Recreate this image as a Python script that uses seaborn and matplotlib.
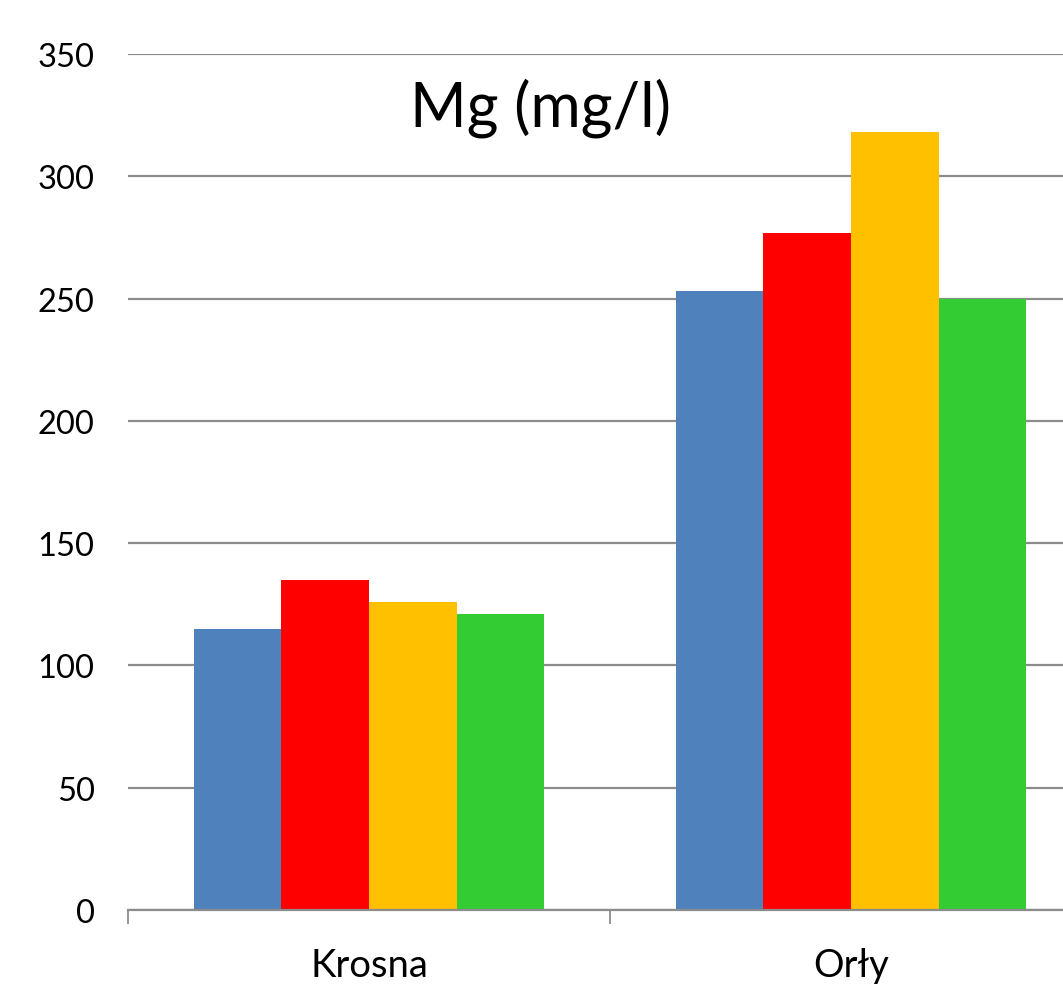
import matplotlib
matplotlib.use("Agg")
import matplotlib.pyplot as plt
import seaborn as sns
import pandas as pd
from matplotlib.ticker import FixedLocator

categories = ["Krosna", "Orły"]
series = ["I", "II", "III", "IV"]
values_krosna = [115, 135, 126, 121]
values_orly = [253, 277, 318, 250]
colors = ["#4F81BD", "#FF0000", "#FFC000", "#33CC33"]
yticks = [0, 50, 100, 150, 200, 250, 300, 350]
title = "Mg (mg/l)"

rows = []
for s, vk, vo in zip(series, values_krosna, values_orly):
    rows.append({"miejsce": categories[0], "seria": s, "Mg": vk})
    rows.append({"miejsce": categories[1], "seria": s, "Mg": vo})
df = pd.DataFrame(rows)

sns.set_theme(style="white")
plt.rcParams["font.family"] = ["Lato", "DejaVu Sans"]
plt.rcParams["text.color"] = "black"
plt.rcParams["xtick.labelcolor"] = "black"
plt.rcParams["ytick.labelcolor"] = "black"

W, H = 1063, 987
fig = plt.figure(figsize=(W / 100, H / 100), dpi=100)
left, right, bottom, top = 128, 1092, 911, 55
ax = fig.add_axes([left / W, (H - bottom) / H, (right - left) / W, (bottom - top) / H])

sns.barplot(data=df, x="miejsce", y="Mg", hue="seria", order=categories,
            hue_order=series, palette=colors, width=0.728, linewidth=0,
            saturation=1, ax=ax, legend=False)

ax.set_xlim(-0.5, 1.5)
ax.set_ylim(0, 350)
ax.set_yticks(yticks)
ax.set_yticklabels([str(t) for t in yticks], fontsize=23.5, color="black")
ax.yaxis.grid(True, color="#8c8c8c", linewidth=1.6)
ax.set_axisbelow(True)
ax.tick_params(axis="y", length=0, pad=24, labelcolor="black")
ax.tick_params(axis="x", which="major", length=0, labelsize=27.5, pad=27,
               labelcolor="black")
ax.xaxis.set_minor_locator(FixedLocator([-0.5, 0.5, 1.5]))
ax.tick_params(axis="x", which="minor", length=10, width=1.3, color="#8c8c8c",
               direction="out", bottom=True)
for sp in ["left", "right", "top"]:
    ax.spines[sp].set_visible(False)
ax.spines["bottom"].set_color("#8c8c8c")
ax.spines["bottom"].set_linewidth(1.6)
ax.set_xlabel("")
ax.set_ylabel("")

fig.text(540 / W, 1 - 108 / H, title, fontsize=44, ha="center", va="center",
         color="black")

fig.savefig("out.png", dpi=100)
